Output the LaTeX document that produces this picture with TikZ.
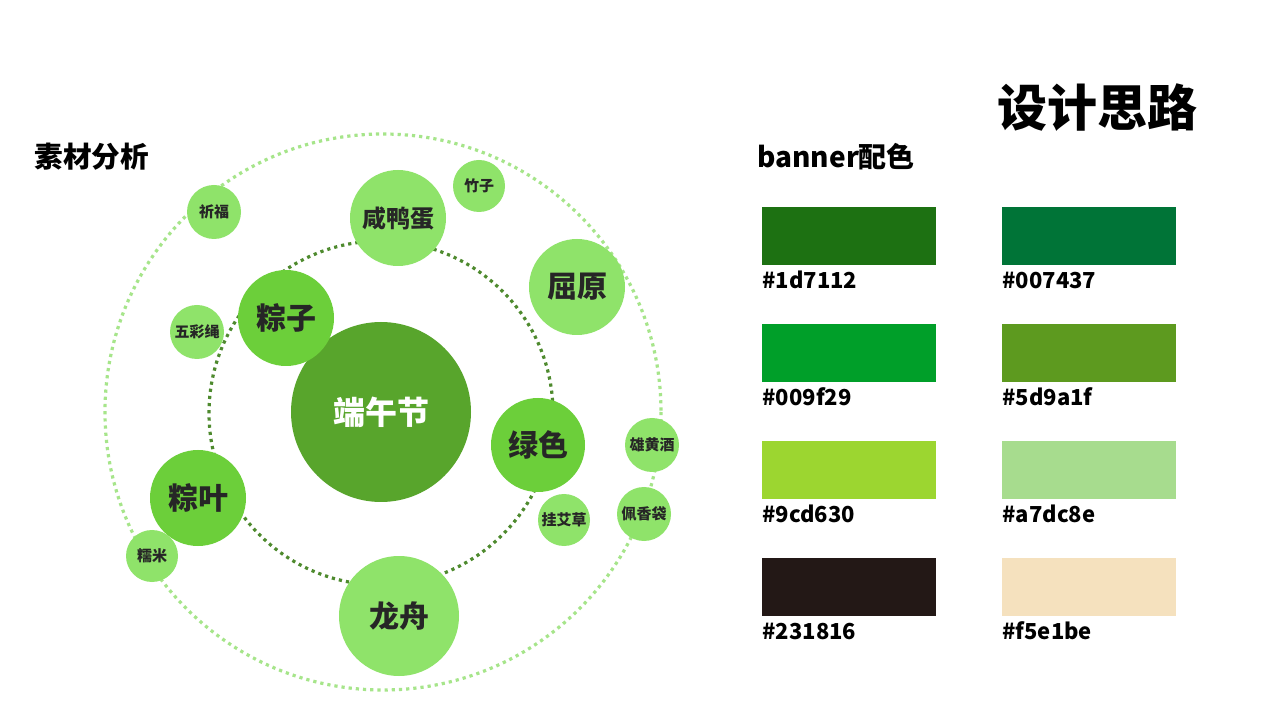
\documentclass[tikz,border=0pt]{standalone}
\usepackage{fontspec}
\setmainfont{Noto Sans CJK SC}
\begin{document}
\begin{tikzpicture}[x=0.5pt,y=-0.5pt,
  bub/.style={circle,fill=#1,draw=none,inner sep=0pt,text=black!85,font=\bfseries},
  ring/.style={draw=#1,dotted,line width=1.6pt},
  lab/.style={anchor=west,font=\bfseries\fontsize{11}{12}\selectfont,inner sep=0pt}]
\fill[white] (0,0) rectangle (1280,721);
\definecolor{lg}{HTML}{8FE36A}
\definecolor{mg}{HTML}{6CCF3A}
\definecolor{cg}{HTML}{58A52C}
\definecolor{r1}{HTML}{A6E58A}
\definecolor{r2}{HTML}{4E8A2E}
\draw[ring=r1] (383,412) circle (278);
\draw[ring=r2] (381,413) circle (172);
\node[bub=cg,minimum size=90pt,text=white,font=\bfseries\fontsize{16}{16}\selectfont] (dw) at (381,412) {端午节};
\def\sm{\fontsize{7.5}{8}\selectfont}
\def\md{\fontsize{12}{12}\selectfont}
\def\lg{\fontsize{15}{15}\selectfont}
\node[bub=lg,minimum size=48pt,font=\bfseries\md] (xyd) at (398,218) {咸鸭蛋};
\node[bub=lg,minimum size=26pt,font=\bfseries\sm] (zz) at (479,186) {竹子};
\node[bub=lg,minimum size=27pt,font=\bfseries\sm] (qf) at (214,212) {祈福};
\node[bub=mg,minimum size=48pt,font=\bfseries\lg] (zzi) at (286,318) {粽子};
\node[bub=lg,minimum size=27pt,font=\bfseries\sm] (wcs) at (197,332) {五彩绳};
\node[bub=lg,minimum size=48pt,font=\bfseries\lg] (qy) at (577,287) {屈原};
\node[bub=mg,minimum size=47pt,font=\bfseries\lg] (ls) at (538,445) {绿色};
\node[bub=lg,minimum size=27pt,font=\bfseries\sm] (xhj) at (652,445) {雄黄酒};
\node[bub=lg,minimum size=27pt,font=\bfseries\sm] (pxd) at (644,514) {佩香袋};
\node[bub=lg,minimum size=26pt,font=\bfseries\sm] (gac) at (564,520) {挂艾草};
\node[bub=mg,minimum size=48pt,font=\bfseries\lg] (zy) at (198,498) {粽叶};
\node[bub=lg,minimum size=26pt,font=\bfseries\sm] (nm) at (152,556) {糯米};
\node[bub=lg,minimum size=60pt,font=\bfseries\lg] (lz) at (399,616) {龙舟};
\node[anchor=west,font=\bfseries\fontsize{14.3}{15}\selectfont,inner sep=0pt] (t1) at (34,157) {素材分析};
\node[anchor=west,font=\bfseries\fontsize{14}{15}\selectfont,inner sep=0pt] (t2) at (757,157) {banner配色};
\node[font=\bfseries\fontsize{25}{25}\selectfont,inner sep=0pt] (t3) at (1097,108) {设计思路};
\foreach \c/\x/\y/\n in {1d7112/762/207/a,007437/1002/207/b,009f29/762/324/c,5d9a1f/1002/324/d,9cd630/762/441/e,a7dc8e/1002/441/f,231816/762/558/g,f5e1be/1002/558/h}{
  \definecolor{c\n}{HTML}{\c}
  \fill[fill=c\n] (\x,\y) rectangle ++(174,58);
  \node[lab] (l\n) at (\x,\y+73) {\#\c};
}
\end{tikzpicture}
\end{document}
